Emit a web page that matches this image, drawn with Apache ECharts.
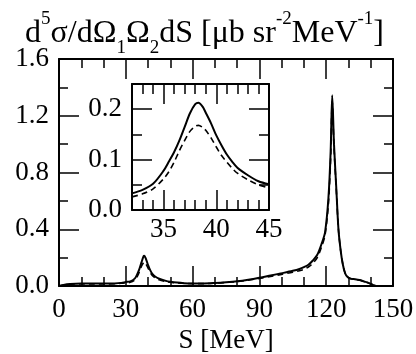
<!DOCTYPE html>
<html>
<head>
<meta charset="utf-8">
<script src="https://cdn.jsdelivr.net/npm/echarts@6/dist/echarts.min.js"></script>
<style>html,body{margin:0;padding:0;background:#fff}#c{width:416px;height:354px}</style>
</head>
<body>
<div id="c"></div>
<script>
// Main panel data: S [MeV] and cross section
const mainS      = [0, 2, 5, 10, 15, 20, 25, 28, 30, 32, 34, 35, 36, 37, 38, 38.3, 39, 40, 41, 42, 43, 45, 48, 50, 53, 56, 60, 65, 70, 75, 80, 85, 90, 95, 100, 105, 108, 110, 112, 114, 116, 118, 119.5, 121, 122, 122.7, 123.5, 124.5, 125.5, 126.5, 127.5, 128.5, 129.5, 131, 133, 135, 137, 139, 141, 142.5, 150];
const mainSolid  = [0, 0.008, 0.014, 0.017, 0.017, 0.017, 0.018, 0.022, 0.028, 0.033, 0.052, 0.078, 0.115, 0.165, 0.210, 0.213, 0.193, 0.148, 0.110, 0.084, 0.069, 0.051, 0.036, 0.030, 0.024, 0.020, 0.018, 0.018, 0.021, 0.026, 0.033, 0.044, 0.058, 0.074, 0.090, 0.107, 0.120, 0.133, 0.150, 0.180, 0.22, 0.30, 0.38, 0.62, 0.95, 1.345, 1.00, 0.70, 0.40, 0.25, 0.15, 0.09, 0.065, 0.052, 0.048, 0.042, 0.032, 0.022, 0.008, 0, 0];
const mainDashed = [0, 0.007, 0.012, 0.015, 0.015, 0.015, 0.016, 0.019, 0.022, 0.026, 0.042, 0.062, 0.095, 0.138, 0.166, 0.168, 0.158, 0.125, 0.095, 0.073, 0.060, 0.044, 0.032, 0.027, 0.022, 0.019, 0.017, 0.017, 0.020, 0.025, 0.031, 0.041, 0.054, 0.068, 0.082, 0.097, 0.108, 0.118, 0.134, 0.160, 0.20, 0.28, 0.36, 0.58, 0.90, 1.30, 0.98, 0.69, 0.40, 0.25, 0.15, 0.09, 0.064, 0.051, 0.047, 0.041, 0.031, 0.021, 0.007, 0, 0];
// Inset data (zoom on the low-energy peak)
const insetS      = [32, 33, 34, 35, 35.5, 36, 36.5, 37, 37.5, 38, 38.3, 38.7, 39, 39.5, 40, 40.5, 41, 41.5, 42, 43, 44, 45];
const insetSolid  = [0.033, 0.040, 0.052, 0.078, 0.096, 0.115, 0.138, 0.165, 0.192, 0.210, 0.213, 0.205, 0.193, 0.172, 0.148, 0.128, 0.110, 0.096, 0.084, 0.069, 0.057, 0.051];
const insetDashed = [0.026, 0.032, 0.042, 0.062, 0.076, 0.095, 0.118, 0.138, 0.156, 0.166, 0.168, 0.164, 0.158, 0.143, 0.125, 0.108, 0.095, 0.083, 0.073, 0.060, 0.050, 0.044];
// Tick labels
const mainXTicks = [0, 30, 60, 90, 120, 150];
const mainYTicks = ['0.0', '0.4', '0.8', '1.2', '1.6'];
const insetXLabels = [35, 40, 45];
const insetXMinor = [33, 34, 36, 37, 38, 39, 41, 42, 43, 44];
const insetXMajor = [35, 40];
const insetYLabels = [0, 0.1, 0.2];
const insetYMinor = [0.05, 0.15];
const insetYMajor = [0.1, 0.2];

const FONT = 'Liberation Serif';
const lbl = {fontFamily: FONT, fontSize: 27, color: '#000'};
const axLine = {show: true, onZero: false, lineStyle: {color: '#000', width: 2}};
const noLine = {show: false, onZero: false};
const tickStyle = {color: '#000', width: 1.5};

function pairs(xs, ys) { return xs.map((x, i) => [x, ys[i]]); }

const chart = echarts.init(document.getElementById('c'));
const option = {
  animation: false,
  backgroundColor: '#fff',
  title: {
    left: 20, top: 5,
    text: 'd{sup|5}σ/dΩ{sub|1}Ω{sub|2}dS [μb sr{sup|-2}MeV{sup|-1}]',
    textStyle: {
      fontFamily: FONT, fontSize: 32, fontWeight: 'normal', color: '#000', lineHeight: 48,
      rich: {
        sup: {fontFamily: FONT, fontSize: 19, verticalAlign: 'top', lineHeight: 19, color: '#000'},
        sub: {fontFamily: FONT, fontSize: 19, verticalAlign: 'bottom', lineHeight: 19, color: '#000'}
      }
    }
  },
  grid: [
    {left: 59, top: 59, width: 334, height: 227, containLabel: false, outerBoundsMode: 'none'},
    {left: 132, top: 84, width: 137, height: 126, containLabel: false, outerBoundsMode: 'none', show: true, backgroundColor: '#fff', borderWidth: 0}
  ],
  xAxis: [
    {gridIndex: 0, type: 'value', position: 'bottom', min: 0, max: 150, interval: 30,
     axisLine: axLine, axisTick: {inside: true, length: 20, lineStyle: tickStyle},
     minorTick: {show: true, splitNumber: 3, length: 9, lineStyle: tickStyle},
     axisLabel: Object.assign({margin: 10, formatter: v => mainXTicks.includes(v) ? String(v) : ''}, lbl),
     splitLine: {show: false},
     name: 'S [MeV]', nameLocation: 'middle', nameGap: 37,
     nameTextStyle: {fontFamily: FONT, fontSize: 27, color: '#000'}},
    {gridIndex: 0, type: 'value', position: 'top', min: 0, max: 150, interval: 30,
     axisLine: axLine, axisTick: {inside: true, length: 20, lineStyle: tickStyle},
     minorTick: {show: true, splitNumber: 3, length: 9, lineStyle: tickStyle},
     axisLabel: {show: false}, splitLine: {show: false}},
    {gridIndex: 1, type: 'value', position: 'bottom', min: 32, max: 45,
     axisLine: axLine, axisTick: {inside: true, length: 10, customValues: insetXMinor, lineStyle: tickStyle},
     axisLabel: {show: false}, splitLine: {show: false}},
    {gridIndex: 1, type: 'value', position: 'bottom', min: 32, max: 45,
     axisLine: noLine, axisTick: {inside: true, length: 20, customValues: insetXMajor, lineStyle: tickStyle},
     axisLabel: Object.assign({margin: 6, customValues: insetXLabels, formatter: v => String(v)}, lbl),
     splitLine: {show: false}},
    {gridIndex: 1, type: 'value', position: 'top', min: 32, max: 45,
     axisLine: axLine, axisTick: {inside: true, length: 10, customValues: insetXMinor, lineStyle: tickStyle},
     axisLabel: {show: false}, splitLine: {show: false}},
    {gridIndex: 1, type: 'value', position: 'top', min: 32, max: 45,
     axisLine: noLine, axisTick: {inside: true, length: 20, customValues: insetXMajor, lineStyle: tickStyle},
     axisLabel: {show: false}, splitLine: {show: false}}
  ],
  yAxis: [
    {gridIndex: 0, type: 'value', position: 'left', min: 0, max: 1.6, interval: 0.4,
     axisLine: axLine, axisTick: {inside: true, length: 20, lineStyle: tickStyle},
     minorTick: {show: true, splitNumber: 2, length: 9, lineStyle: tickStyle},
     axisLabel: Object.assign({margin: 10, formatter: v => mainYTicks[Math.round(v / 0.4)] || ''}, lbl),
     splitLine: {show: false}},
    {gridIndex: 0, type: 'value', position: 'right', min: 0, max: 1.6, interval: 0.4,
     axisLine: axLine, axisTick: {inside: true, length: 20, lineStyle: tickStyle},
     minorTick: {show: true, splitNumber: 2, length: 9, lineStyle: tickStyle},
     axisLabel: {show: false}, splitLine: {show: false}},
    {gridIndex: 1, type: 'value', position: 'left', min: 0, max: 0.25,
     axisLine: axLine, axisTick: {inside: true, length: 10, customValues: insetYMinor, lineStyle: tickStyle},
     axisLabel: {show: false}, splitLine: {show: false}},
    {gridIndex: 1, type: 'value', position: 'left', min: 0, max: 0.25,
     axisLine: noLine, axisTick: {inside: true, length: 20, customValues: insetYMajor, lineStyle: tickStyle},
     axisLabel: Object.assign({margin: 10, customValues: insetYLabels, formatter: v => v.toFixed(1)}, lbl),
     splitLine: {show: false}},
    {gridIndex: 1, type: 'value', position: 'right', min: 0, max: 0.25,
     axisLine: axLine, axisTick: {inside: true, length: 10, customValues: insetYMinor, lineStyle: tickStyle},
     axisLabel: {show: false}, splitLine: {show: false}},
    {gridIndex: 1, type: 'value', position: 'right', min: 0, max: 0.25,
     axisLine: noLine, axisTick: {inside: true, length: 20, customValues: insetYMajor, lineStyle: tickStyle},
     axisLabel: {show: false}, splitLine: {show: false}}
  ],
  series: [
    {type: 'line', xAxisIndex: 0, yAxisIndex: 0, data: pairs(mainS, mainSolid), showSymbol: false, smooth: 0.3,
     lineStyle: {color: '#000', width: 2}, z: 3},
    {type: 'line', xAxisIndex: 0, yAxisIndex: 0, data: pairs(mainS, mainDashed), showSymbol: false, smooth: 0.3,
     lineStyle: {color: '#000', width: 1.6, type: [6, 4]}, z: 3},
    {type: 'line', xAxisIndex: 2, yAxisIndex: 2, data: pairs(insetS, insetSolid), showSymbol: false, smooth: 0.3,
     lineStyle: {color: '#000', width: 2}, z: 3},
    {type: 'line', xAxisIndex: 2, yAxisIndex: 2, data: pairs(insetS, insetDashed), showSymbol: false, smooth: 0.3,
     lineStyle: {color: '#000', width: 1.6, type: [6, 4]}, z: 3}
  ]
};
chart.setOption(option);
</script>
</body>
</html>
